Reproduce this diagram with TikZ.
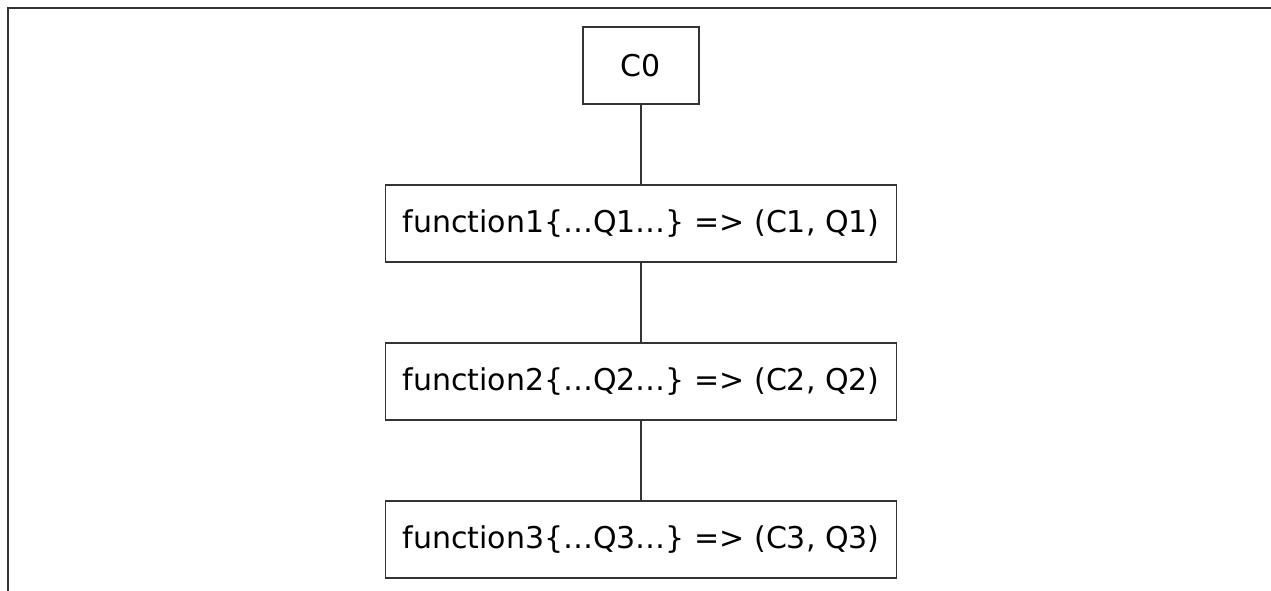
\documentclass[tikz,border=0pt]{standalone}
\usepackage{fontspec}
\setmainfont{DejaVu Sans}
\usepackage{xcolor}
\usetikzlibrary{positioning}

\definecolor{linegray}{HTML}{333333}

\begin{document}
\begin{tikzpicture}[x=1pt, y=-1pt, node distance=81pt,
    block/.style={rectangle, draw=linegray, line width=1.8pt, fill=white, minimum height=77pt, inner sep=0pt, outer sep=0pt, font=\fontsize{30}{35}\selectfont},
    wide/.style={block, minimum width=511pt},
    link/.style={draw=linegray, line width=1.8pt}]

    \useasboundingbox (0,0) rectangle (1271,591);
    \fill[white] (0,0) rectangle (1271,591);
    \draw[linegray, line width=2.2pt] (8,591) -- (8,8) -- (1271,8);

    \node[block, minimum width=116pt] (c0) at (641,65.5) {C0};
    \node[wide, below=of c0] (fun1) {function1\{…Q1…\} => (C1, Q1)};
    \node[wide, below=of fun1] (fun2) {function2\{…Q2…\} => (C2, Q2)};
    \node[wide, below=of fun2] (fun3) {function3\{…Q3…\} => (C3, Q3)};

    \draw[link] (c0) -- (fun1);
    \draw[link] (fun1) -- (fun2);
    \draw[link] (fun2) -- (fun3);

\end{tikzpicture}
\end{document}
